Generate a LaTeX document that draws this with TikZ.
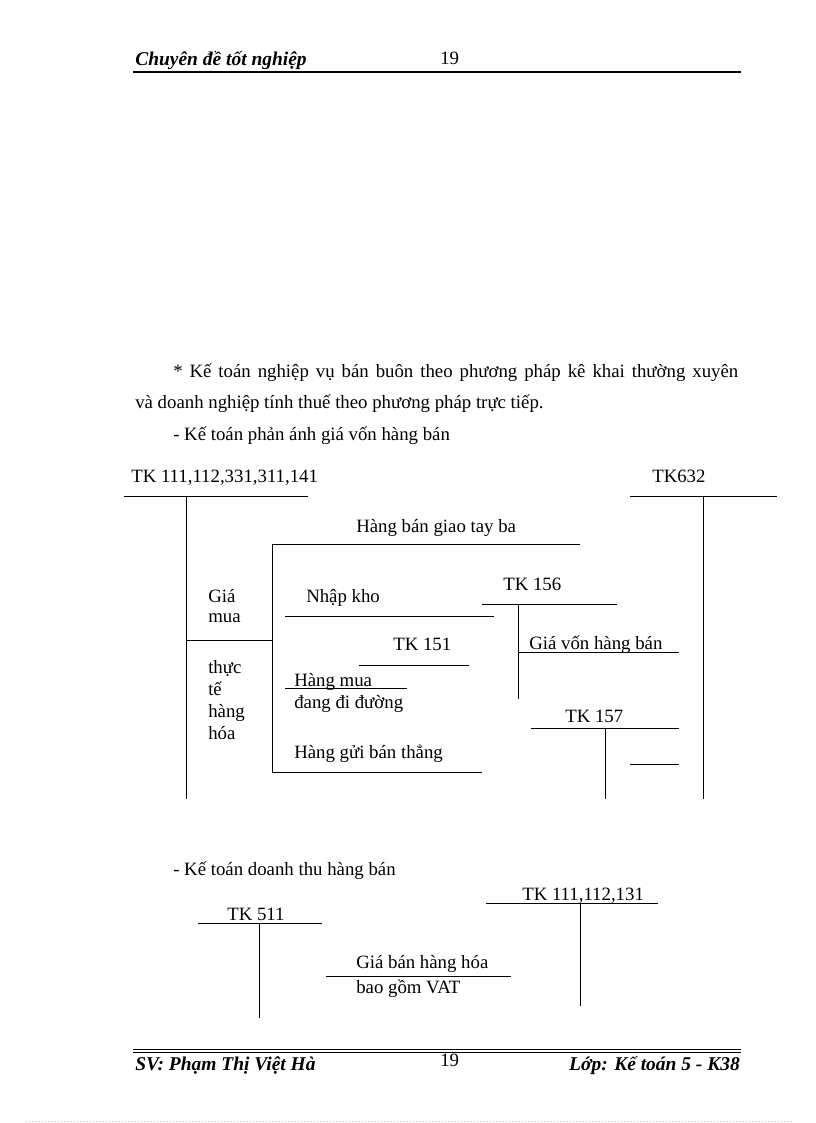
\documentclass[tikz,border=0pt]{standalone}
\usepackage{fontspec}
\setmainfont{Liberation Serif}
\usetikzlibrary{calc}
\definecolor{ink}{HTML}{000000}

\begin{document}
\begin{tikzpicture}[x=0.75pt,y=-0.75pt,font=\fontsize{14.1}{17}\selectfont,text=ink,
  txt/.style={anchor=base west,inner sep=0pt},
  hd/.style={txt,font=\fontsize{14.6}{17}\selectfont\bfseries\itshape},
  tline/.style={ink,line width=0.7pt}]
  \useasboundingbox (0,0) rectangle (816,1123);
  % header
  \node[hd] (htitle) at (135,66) {Chuyên đề tốt nghiệp};
  \node[txt] (hpage) at (440,65) {19};
  \draw[line width=1.5pt] (133,72)--(741,72);
  % paragraph
  \node[txt] (par1) at (173,377) {\makebox[423.75pt][s]{* Kế toán nghiệp vụ bán buôn theo phương pháp kê khai thường xuyên}};
  \node[txt] (par2) at (135,408) {và doanh nghiệp tính thuế theo phương pháp trực tiếp.};
  \node[txt] (par3) at (173,440) {- Kế toán phản ánh giá vốn hàng bán};

  % T accounts: gia von
  \coordinate (T111) at (186,496); \coordinate (T632) at (703,496);
  \coordinate (T156) at (518,604); \coordinate (T157) at (605,728);
  \node[txt] (tk111) at (131,482) {TK 111,112,331,311,141};
  \node[txt] (tk632) at (652,482) {TK632};
  \draw[tline] (124,496)--(308,496) (T111)--(186,799);
  \draw[tline] (630,496)--(777,496) (T632)--(703,799);
  \node[txt] (taybalbl) at (356,532) {Hàng bán giao tay ba};
  \draw[tline] (580,544)--(272,544)--(272,772)--(482,772);
  \draw[tline] (186,640)--(272,640);
  \node[txt] (w1) at (208,602) {Giá};
  \node[txt] (w2) at (208,622) {mua};
  \node[txt] (w3) at (208,673) {thực};
  \node[txt] (w4) at (208,695) {tế};
  \node[txt] (w5) at (208,717) {hàng};
  \node[txt] (w6) at (208,739) {hóa};
  \node[txt] (nhaplbl) at (306,602) {Nhập kho};
  \draw[tline] (285,616)--(494,616);
  \node[txt] (tk156) at (503,590) {TK 156};
  \draw[tline] (482,604)--(617,604) (T156)--(518,699);
  \node[txt] (gvlbl) at (529,649) {Giá vốn hàng bán};
  \draw[tline] (T156|-0,652)--(679,652);
  \node[txt] (tk151) at (393,650) {TK 151};
  \draw[tline] (359,665)--(469,665);
  \node[txt] (mualbl) at (294,686) {Hàng mua};
  \draw[tline] (285,688)--(407,688);
  \node[txt] (dilbl) at (294,708) {đang đi đường};
  \node[txt] (tk157) at (565,722) {TK 157};
  \draw[tline] (531,728)--(679,728) (T157)--(605,799);
  \draw[tline] (630,764)--(679,764);
  \node[txt] (guilbl) at (294,758) {Hàng gửi bán thẳng};

  % doanh thu
  \node[txt] (par4) at (173,875) {- Kế toán doanh thu hàng bán};
  \node[txt] (tk131) at (522,900) {TK 111,112,131};
  \draw[tline] (486,903)--(658,903) (580,903)--(580,1006);
  \node[txt] (tk511) at (227,920) {TK 511};
  \draw[tline] (198,923)--(322,923) (259,923)--(259,1018);
  \node[txt] (banlbl) at (356,968) {Giá bán hàng hóa};
  \draw[tline] (326,976)--(511,976);
  \node[txt] (vatlbl) at (356,993) {bao gồm VAT};

  % footer
  \draw[line width=0.6pt] (133,1049)--(741,1049);
  \draw[line width=1.2pt] (133,1052.5)--(741,1052.5);
  \node[hd] (fname) at (135,1070) {SV: Phạm Thị Việt Hà};
  \node[txt] (fpage) at (440,1066) {19};
  \node[hd,anchor=base east] (fclass) at (740,1070) {Lớp: Kế toán 5 - K38};
  \draw[gray!50,dotted,line width=0.4pt] (26,1121)--(792,1121);
\end{tikzpicture}
\end{document}
